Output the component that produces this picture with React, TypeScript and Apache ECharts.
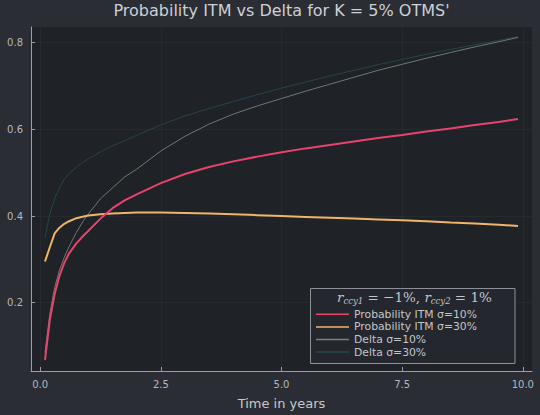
import React, { useEffect, useRef } from "react";
import * as echarts from "echarts";

const times = [0.1, 0.2, 0.3, 0.4, 0.5, 0.6, 0.75, 0.9, 1, 1.25, 1.5, 1.75, 2, 2.5, 3, 3.5, 4, 4.5, 5, 5.5, 6, 6.5, 7, 7.5, 8, 8.5, 9, 9.5, 9.9];
const probItm10 = [0.068, 0.16, 0.22, 0.262, 0.292, 0.314, 0.337, 0.355, 0.366, 0.394, 0.418, 0.436, 0.45, 0.476, 0.497, 0.513, 0.526, 0.537, 0.547, 0.556, 0.564, 0.572, 0.58, 0.587, 0.595, 0.602, 0.61, 0.617, 0.624];
const probItm30 = [0.295, 0.328, 0.36, 0.373, 0.382, 0.388, 0.395, 0.399, 0.401, 0.404, 0.406, 0.407, 0.408, 0.408, 0.407, 0.406, 0.404, 0.402, 0.4, 0.398, 0.396, 0.394, 0.392, 0.39, 0.388, 0.385, 0.383, 0.38, 0.377];
const delta10 = [0.085, 0.175, 0.235, 0.275, 0.305, 0.33, 0.362, 0.39, 0.405, 0.44, 0.465, 0.49, 0.508, 0.55, 0.584, 0.612, 0.635, 0.654, 0.671, 0.688, 0.704, 0.72, 0.736, 0.75, 0.764, 0.777, 0.79, 0.802, 0.812];
const delta30 = [0.35, 0.405, 0.44, 0.465, 0.485, 0.498, 0.513, 0.525, 0.532, 0.548, 0.562, 0.574, 0.586, 0.61, 0.631, 0.648, 0.664, 0.68, 0.695, 0.709, 0.723, 0.736, 0.749, 0.761, 0.773, 0.784, 0.795, 0.805, 0.814];
const xTicks = [0, 2.5, 5, 7.5, 10];
const yTicks = [0.2, 0.4, 0.6, 0.8];
const seriesNames = ["Probability ITM σ=10%", "Probability ITM σ=30%", "Delta σ=10%", "Delta σ=30%"];
const titleText = "Probability ITM vs Delta for K = 5% OTMS'";
const xAxisName = "Time in years";

const FONT = "DejaVu Sans";

export default function App() {
  const ref = useRef<HTMLDivElement>(null);
  useEffect(() => {
    if (!ref.current) return;
    const chart = echarts.init(ref.current, undefined, { renderer: "svg" });
    const mk = (vals: number[]) => times.map((t, i) => [t, vals[i]]);
    const colors = ["#e8436d", "#f0b567", "#75837e", "#264a50"];
    const widths = [2, 2, 0.9, 0.9];
    const datas = [probItm10, probItm30, delta10, delta30];
    chart.setOption({
      animation: false,
      backgroundColor: "#2a2d34",
      textStyle: { fontFamily: FONT },
      grid: {
        left: 31,
        right: 8,
        top: 27,
        bottom: 39,
        show: true,
        backgroundColor: "#1f2227",
        borderWidth: 0,
      },
      xAxis: {
        type: "value",
        min: -0.19,
        max: 10.19,
        name: xAxisName,
        nameLocation: "middle",
        nameGap: 26,
        nameTextStyle: { color: "#c6c9cd", fontSize: 13, fontFamily: FONT },
        axisLine: { show: true, onZero: false, lineStyle: { color: "#9ca0a6", width: 1 } },
        axisTick: { show: true, inside: true, length: 4, customValues: xTicks, lineStyle: { color: "#9ca0a6" } },
        axisLabel: {
          customValues: xTicks,
          formatter: (v: number) => v.toFixed(1),
          color: "#b4b8bd",
          fontSize: 10,
          margin: 8,
          fontFamily: FONT,
        },
        splitLine: { show: true, lineStyle: { color: "rgba(255,255,255,0.035)", width: 1 } },
      },
      yAxis: {
        type: "value",
        min: 0.0425,
        max: 0.836,
        axisLine: { show: true, onZero: false, lineStyle: { color: "#9ca0a6", width: 1 } },
        axisTick: { show: true, inside: true, length: 4, customValues: yTicks, lineStyle: { color: "#9ca0a6" } },
        axisLabel: {
          customValues: yTicks,
          formatter: (v: number) => v.toFixed(1),
          color: "#b4b8bd",
          fontSize: 10,
          margin: 8,
          fontFamily: FONT,
        },
        splitLine: { show: true, lineStyle: { color: "rgba(255,255,255,0.035)", width: 1 } },
      },
      legend: {
        orient: "vertical",
        left: 316,
        top: 308,
        padding: 0,
        icon: "rect",
        itemWidth: 33,
        itemHeight: 1.5,
        itemGap: 0,
        data: seriesNames,
        textStyle: { color: "#c3c6ca", fontSize: 10.8, lineHeight: 12.6, fontFamily: FONT },
        z: 10,
      },
      graphic: [
        {
          type: "rect",
          z: 5,
          shape: { x: 310.5, y: 288.5, width: 204.5, height: 75 },
          style: { fill: "#24272d", stroke: "#8d9197", lineWidth: 1 },
        },
        {
          type: "text",
          z: 11,
          x: 337,
          y: 291,
          style: {
            text: "{r|r}{s|ccy1}{n| = −1%, }{r|r}{s|ccy2}{n| = 1%}",
            fill: "#c3c6ca",
            rich: {
              r: { fontFamily: "DejaVu Serif", fontStyle: "italic", fontSize: 13.5, lineHeight: 14, padding: [0, 0, 2, 0], fill: "#c3c6ca" },
              n: { fontFamily: "DejaVu Serif", fontSize: 13.5, lineHeight: 14, padding: [0, 0, 2, 0], fill: "#c3c6ca" },
              s: { fontFamily: "DejaVu Serif", fontStyle: "italic", fontSize: 8.5, lineHeight: 9, verticalAlign: "bottom", fill: "#c3c6ca" },
            },
          },
        },
        {
          type: "text",
          z: 11,
          x: 281.5,
          y: 10,
          style: {
            text: titleText,
            fill: "#cdd0d4",
            fontSize: 16,
            fontFamily: FONT,
            align: "center",
            verticalAlign: "middle",
          },
        },
      ],
      series: seriesNames.map((name, i) => ({
        name,
        type: "line",
        data: mk(datas[i]),
        symbol: "none",
        showSymbol: false,
        smooth: false,
        lineStyle: { color: colors[i], width: widths[i] },
        itemStyle: { color: colors[i] },
        z: 4 - i,
      })),
    });
    return () => chart.dispose();
  }, []);
  return <div ref={ref} style={{ position: "absolute", left: 0, top: 0, width: 540, height: 415 }} />;
}
